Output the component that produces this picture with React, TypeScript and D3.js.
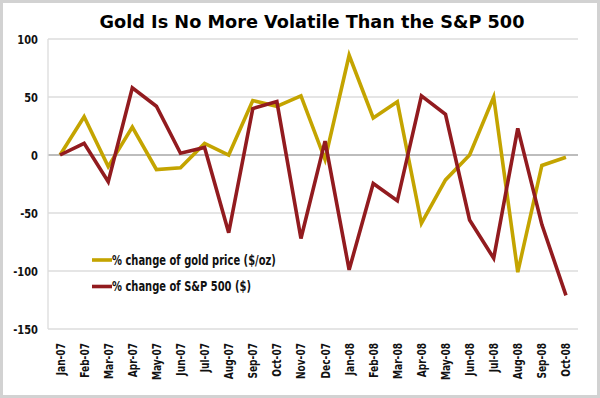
import * as d3 from "d3";

const months = [
  "Jan-07", "Feb-07", "Mar-07", "Apr-07", "May-07", "Jun-07", "Jul-07", "Aug-07",
  "Sep-07", "Oct-07", "Nov-07", "Dec-07", "Jan-08", "Feb-08", "Mar-08", "Apr-08",
  "May-08", "Jun-08", "Jul-08", "Aug-08", "Sep-08", "Oct-08",
];

const goldChange = [
  0, 33, -10, 24, -12.5, -11, 10, 0, 47, 42, 51, -4,
  86, 32, 46, -59, -21.5, 0, 50, -101, -9, -2,
];

const spChange = [
  0, 10, -23, 58, 42, 1.5, 6.5, -67, 40, 46, -72, 12,
  -99, -24.5, -39.5, 51, 35, -56, -89, 23, -60, -121,
];

const yTicks = [100, 50, 0, -50, -100, -150];

const GOLD = "#c4a400";
const RED = "#921b1f";
const narrow = "'DejaVu Sans Condensed', 'DejaVu Sans', sans-serif";

export default function App() {
  const width = 600;
  const height = 398;
  const margin = { top: 39, right: 22, bottom: 69, left: 48 };
  const innerW = width - margin.left - margin.right;

  const x = d3.scaleBand<string>().domain(months).range([margin.left, width - margin.right]);
  const y = d3.scaleLinear().domain([-150, 100]).range([329, margin.top]);
  const cx = (m: string) => (x(m) as number) + x.bandwidth() / 2;

  const line = d3
    .line<number>()
    .x((_, i) => cx(months[i]))
    .y((d) => y(d));

  const series = [
    { label: "% change of gold price ($/oz)", values: goldChange, color: GOLD },
    { label: "% change of S&P 500 ($)", values: spChange, color: RED },
  ];

  return (
    <div style={{ position: "fixed", left: 0, top: 0 }}>
      <svg width={width} height={height} style={{ display: "block" }}>
        <rect x={1.5} y={1.5} width={width - 3} height={height - 3} fill="#fff" stroke="#d2d2d2" strokeWidth={3} />
        <text
          x={312}
          y={27.5}
          textAnchor="middle"
          fontFamily="'DejaVu Sans', Verdana, sans-serif"
          fontWeight="bold"
          fontSize={17.7}
          fill="#000"
        >
          Gold Is No More Volatile Than the S&amp;P 500
        </text>

        {/* grid */}
        {yTicks.map((t) => (
          <line
            key={t}
            x1={margin.left}
            x2={margin.left + innerW}
            y1={y(t)}
            y2={y(t)}
            stroke={t === 0 ? "#bdbdbd" : "#dcdcdc"}
            strokeWidth={t === 0 ? 2 : 1.3}
          />
        ))}
        <line x1={margin.left} x2={margin.left} y1={y(100)} y2={y(-150)} stroke="#dcdcdc" strokeWidth={1.3} />

        {/* y labels */}
        {yTicks.map((t) => (
          <text
            key={t}
            transform={`translate(38,${y(t) + 4.5}) scale(0.88,1)`}
            textAnchor="end"
            fontFamily={narrow}
            fontWeight="bold"
            fontSize={12.5}
            fill="#111"
          >
            {t}
          </text>
        ))}

        {/* x labels */}
        {months.map((m) => (
          <text
            key={m}
            transform={`translate(${cx(m) + 4.5},${343}) rotate(-90) scale(0.84,1)`}
            textAnchor="end"
            fontFamily={narrow}
            fontWeight="bold"
            fontSize={12}
            fill="#111"
          >
            {m}
          </text>
        ))}

        {/* lines */}
        {series.map((s) => (
          <path
            key={s.label}
            d={line(s.values) ?? ""}
            fill="none"
            stroke={s.color}
            strokeWidth={3.6}
            strokeLinejoin="miter"
          />
        ))}

        {/* legend */}
        {series.map((s, i) => (
          <g key={s.label} transform={`translate(92,${260 + i * 26.5})`}>
            <line x1={0} x2={20} y1={0} y2={0} stroke={s.color} strokeWidth={3.6} />
            <text
              transform="translate(20,4.5) scale(0.82,1)"
              fontFamily={narrow}
              fontWeight="bold"
              fontSize={13.5}
              fill="#111"
            >
              {s.label}
            </text>
          </g>
        ))}
      </svg>
    </div>
  );
}
